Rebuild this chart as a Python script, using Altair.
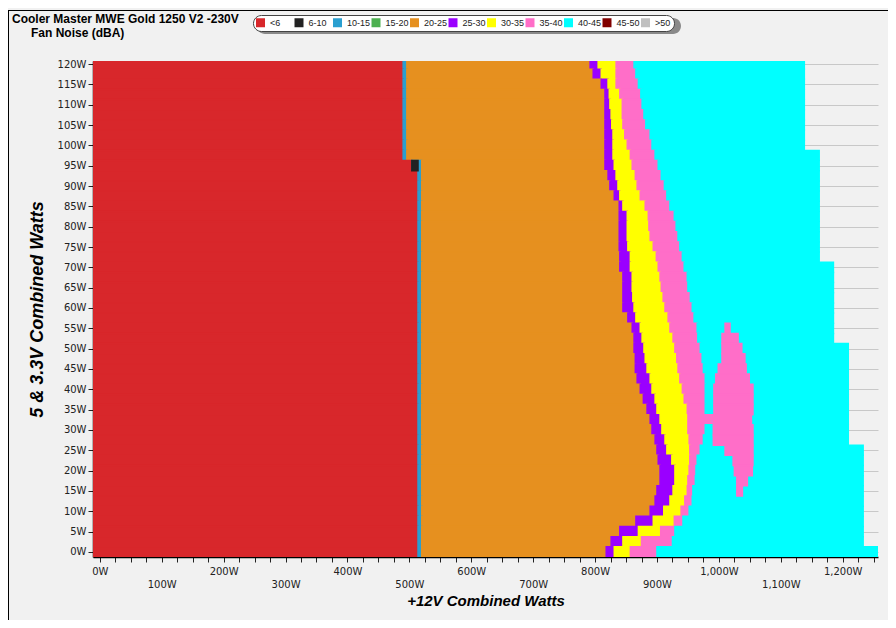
import altair as alt
import pandas as pd

# ---------------- text ----------------
TITLE_1 = "Cooler Master MWE Gold 1250 V2 -230V"
TITLE_2 = "Fan Noise (dBA)"
X_TITLE = "+12V Combined Watts"
Y_TITLE = "5 & 3.3V Combined Watts"

# ---------------- noise classes (legend) ----------------
CLASSES = ["<6", "6-10", "10-15", "15-20", "20-25", "25-30", "30-35",
           "35-40", "40-45", "45-50", ">50"]
COLORS = ["#d8272b", "#222222", "#2a9fd0", "#4cb050", "#e6901f", "#9a00ff",
          "#ffff00", "#ff6ec8", "#00ffff", "#800000", "#c0c0c0"]

# ---------------- data: one row per 5V&3.3V load level ----------------
ROW_STEP = 2.5
ROW_W = [120, 117.5, 115, 112.5, 110, 107.5, 105, 102.5, 100, 97.5, 95, 92.5,
         90, 87.5, 85, 82.5, 80, 77.5, 75, 72.5, 70, 67.5, 65, 62.5, 60, 57.5,
         55, 52.5, 50, 47.5, 45, 42.5, 40, 37.5, 35, 32.5, 30, 27.5, 25, 22.5,
         20, 17.5, 15, 12.5, 10, 7.5, 5, 2.5, 0]
X_START = -11

# right edge (+12V watts) of each noise band, per row
RED_END = [490] * 10 + [504] + [514] * 38
BLUE_END = [496] * 10 + [520] + [520] * 38
ORANGE_END = [792, 797, 810, 816, 816, 816, 816, 816, 816, 816, 816, 821, 824,
              831, 839, 839, 839, 839, 839, 840, 840, 845, 845, 845, 845, 853,
              860, 863, 863, 865, 865, 868, 873, 878, 884, 889, 892, 897, 900,
              902, 905, 905, 900, 897, 889, 866, 840, 826, 818]
PURPLE_END = [805, 810, 821, 823, 824, 826, 827, 829, 829, 829, 831, 834, 837,
              840, 845, 852, 852, 852, 853, 857, 857, 860, 860, 861, 863, 866,
              873, 876, 879, 881, 884, 889, 892, 897, 900, 905, 908, 913, 916,
              924, 929, 929, 926, 921, 911, 894, 870, 845, 831]
YELLOW_END = [834, 834, 834, 840, 844, 844, 845, 848, 852, 857, 860, 865, 868,
              873, 881, 886, 887, 889, 894, 899, 902, 905, 907, 910, 913, 918,
              921, 926, 929, 932, 934, 937, 941, 944, 949, 950, 950, 952, 953,
              953, 952, 950, 949, 945, 939, 928, 906, 875, 857]
PINK_END = [863, 866, 870, 874, 876, 879, 882, 889, 892, 897, 902, 907, 912,
            916, 921, 928, 931, 934, 937, 941, 944, 949, 950, 954, 957, 960,
            965, 966, 970, 973, 975, 978, 978, 978, 978, 1055, 978, 975, 970,
            965, 963, 962, 958, 957, 952, 942, 929, 925, 900]
CYAN_END = [1138] * 9 + [1162] * 11 + [1185] * 8 + [1209] * 10 + [1233] * 10 + [1257]

# 35-40 dBA island inside the 40-45 dBA region
ISLAND_W = [55, 52.5, 50, 47.5, 45, 42.5, 40, 37.5, 35, 30, 27.5, 25, 22.5,
            20, 17.5, 15]
ISLAND_START = [1010, 1005, 1005, 1005, 999, 995, 992, 992, 992, 991, 991,
                1010, 1023, 1025, 1029, 1029]
ISLAND_END = [1018, 1031, 1037, 1042, 1044, 1049, 1055, 1055, 1055, 1055,
              1055, 1055, 1055, 1054, 1046, 1038]

# small 6-10 dBA spot at the step of the red region
BLACK_W = [95]
BLACK_START = [504]
BLACK_END = [514]

# ---------------- build rectangles ----------------
recs = []
band_classes = ["<6", "10-15", "20-25", "25-30", "30-35", "35-40", "40-45"]
for i, w in enumerate(ROW_W):
    edges = [X_START, RED_END[i], BLUE_END[i], ORANGE_END[i], PURPLE_END[i],
             YELLOW_END[i], PINK_END[i], CYAN_END[i]]
    for c, a, b in zip(band_classes, edges[:-1], edges[1:]):
        if b > a:
            recs.append(dict(cls=c, x=a, x2=b, y=w - ROW_STEP / 2, y2=w + ROW_STEP / 2))
for w, a, b in zip(ISLAND_W, ISLAND_START, ISLAND_END):
    recs.append(dict(cls="35-40", x=a, x2=b, y=w - ROW_STEP / 2, y2=w + ROW_STEP / 2))
for w, a, b in zip(BLACK_W, BLACK_START, BLACK_END):
    recs.append(dict(cls="6-10", x=a, x2=b, y=w - ROW_STEP / 2, y2=w + ROW_STEP / 2))
df = pd.DataFrame(recs)

X_TICKS = list(range(0, 1251, 25))
Y_TICKS = list(range(0, 121, 5))

W, H = 785, 496

x_scale = alt.Scale(domain=[X_START, max(CYAN_END)], nice=False, zero=False)
y_scale = alt.Scale(domain=[-ROW_STEP / 2, 120.75], nice=False, zero=False)
color_scale = alt.Scale(domain=CLASSES, range=COLORS)

x_axis = alt.Axis(
    title=X_TITLE, values=X_TICKS,
    labelExpr="datum.value % 100 != 0 ? '' : (datum.value % 200 == 0 ? "
              "format(datum.value, ',') + 'W' : ['', format(datum.value, ',') + 'W'])",
    labelOverlap=False, labelFont="DejaVu Sans", labelFontSize=10,
    labelColor="#222222", labelBaseline="top", labelLineHeight=13,
    labelPadding=4, tickSize=5, tickColor="#222222", domainColor="black",
    domainWidth=1.5, grid=False, titleFont="Liberation Sans", titleFontSize=15,
    titleFontStyle="italic", titleFontWeight="bold", titleColor="black",
    titleY=43, titleBaseline="middle",
)
y_axis = alt.Axis(
    title=Y_TITLE, values=Y_TICKS, labelExpr="datum.value + 'W'",
    labelFont="DejaVu Sans", labelFontSize=10, labelColor="#222222",
    labelPadding=2, tickSize=5, tickColor="#222222", domainColor="black",
    domainWidth=1.5, grid=True, gridColor="#c8c8c8", gridWidth=1,
    titleFont="Liberation Sans", titleFontSize=18, titleFontStyle="italic",
    titleFontWeight="bold", titleColor="black", titleAngle=270,
    titleX=-56, titleY=H / 2, titleAlign="center", titleBaseline="middle",
)
legend = alt.Legend(
    title=None, orient="none", legendX=160, legendY=-46, direction="horizontal",
    columns=11, symbolType="square", symbolSize=81, symbolStrokeWidth=0,
    symbolOpacity=1, labelFont="Liberation Sans", labelFontSize=9,
    labelColor="#222222", labelOffset=5, columnPadding=0.5, padding=3,
    fillColor="white", strokeColor="#444444", cornerRadius=8, gridAlign="all",
    zindex=2,
)

heat = alt.Chart(df).mark_rect(clip=True, strokeWidth=1.5).encode(
    x=alt.X("x:Q", scale=x_scale, axis=x_axis),
    x2="x2:Q",
    y=alt.Y("y:Q", scale=y_scale, axis=y_axis),
    y2="y2:Q",
    color=alt.Color("cls:N", scale=color_scale, legend=legend),
    stroke=alt.Stroke("cls:N", scale=color_scale, legend=None),
)

one = pd.DataFrame({"t": [0]})
frame_top = alt.Chart(one).mark_rule(color="black", strokeWidth=1).encode(
    x=alt.value(-85), x2=alt.value(800), y=alt.value(-50.5))
frame_left = alt.Chart(one).mark_rule(color="black", strokeWidth=1).encode(
    x=alt.value(-84.5), y=alt.value(-51), y2=alt.value(570))
shadow = alt.Chart(one).mark_rect(cornerRadius=8, fill="#8a8a8a").encode(
    x=alt.value(164), x2=alt.value(588), y=alt.value(-43), y2=alt.value(-27))

t1 = alt.Chart(pd.DataFrame({"t": [TITLE_1]})).mark_text(
    align="left", baseline="alphabetic", font="Liberation Sans", fontSize=12,
    fontWeight="bold", color="black").encode(
    x=alt.value(-81), y=alt.value(-38), text="t:N")
t2 = alt.Chart(pd.DataFrame({"t": [TITLE_2]})).mark_text(
    align="left", baseline="alphabetic", font="Liberation Sans", fontSize=12,
    fontWeight="bold", color="black").encode(
    x=alt.value(-62), y=alt.value(-24.5), text="t:N")

chart = alt.layer(frame_top, frame_left, shadow, heat, t1, t2).resolve_scale(
    color="independent", stroke="independent"
).properties(
    width=W, height=H,
    padding={"left": 85, "top": 53, "right": 10, "bottom": 63},
    autosize=alt.AutoSizeParams(type="none"),
    background="#f1f1f1",
).configure_view(stroke=None)

chart.save("out.html", embed_options={"renderer": "svg", "actions": False})
